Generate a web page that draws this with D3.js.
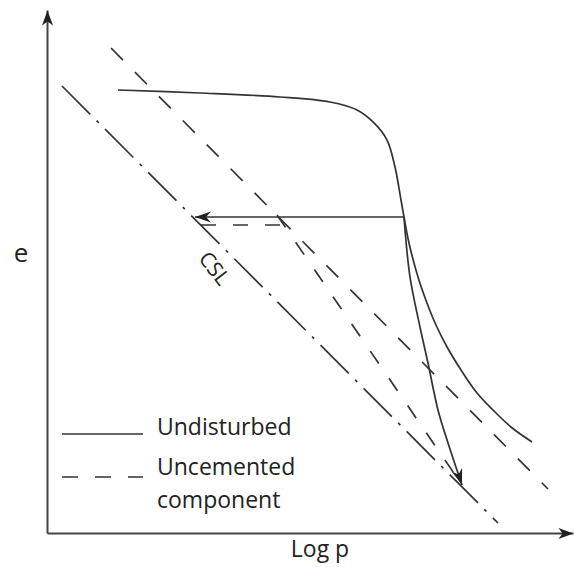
<!DOCTYPE html>
<html>
<head>
<meta charset="utf-8">
<script src="https://cdn.jsdelivr.net/npm/d3@7"></script>
<style>
  html, body { margin: 0; padding: 0; background: #fff; }
  svg { display: block; font-family: "Open Sans", "Noto Sans", sans-serif; }
</style>
</head>
<body>
<svg id="chart" width="574" height="567"></svg>
<script>
// ---- Data (schematic units: x = log p, y = void ratio e, both 0..100) ----
const cslLine        = [[2.85, 85.47], [85.74, 1.91]];
const uncementedNCL  = [[12.17, 92.73], [95.25, 8.41]];
const undisturbedCurve = [
  [13.50, 84.70], [29.09, 84.13], [44.30, 83.37], [53.80, 82.41],
  [58.94, 80.88], [61.98, 78.59], [64.64, 75.14], [66.16, 69.98],
  [67.30, 63.67], [67.87, 60.42], [68.82, 55.45], [70.53, 48.95],
  [72.24, 43.98], [73.95, 39.77], [76.05, 35.56], [78.71, 31.17],
  [81.75, 26.77], [84.79, 23.52], [88.21, 20.27], [92.21, 17.40]
];
const shearPath = [
  [67.87, 60.42], [69.01, 48.95], [70.91, 39.39], [72.43, 32.50],
  [74.33, 23.52], [76.24, 17.21], [78.90, 9.18]
];
const yieldArrow       = [[67.87, 60.42], [28.14, 60.42]];
const uncementedShift  = [[44.30, 58.89], [29.28, 58.89]];
const uncementedPath   = [[43.73, 60.80], [78.52, 9.75]];

const axisLabels = { x: "Log p", y: "e" };
const legendLabels = ["Undisturbed", ["Uncemented", "component"]];
const cslLabel = "CSL";

// ---- Drawing ----
const svg = d3.select("#chart");
const ink = "#333";
const x = d3.scaleLinear().domain([0, 100]).range([47, 573]);
const y = d3.scaleLinear().domain([0, 100]).range([533, 10]);

const defs = svg.append("defs");
function marker(id, len, half, notch, color) {
  defs.append("marker")
    .attr("id", id)
    .attr("viewBox", `${-len - 1} ${-half - 1} ${len + 2} ${2 * half + 2}`)
    .attr("refX", 0).attr("refY", 0)
    .attr("markerUnits", "userSpaceOnUse")
    .attr("markerWidth", len + 2).attr("markerHeight", 2 * half + 2)
    .attr("orient", "auto")
    .append("path")
    .attr("d", `M0,0 L${-len},${-half} L${-len + notch},0 L${-len},${half} Z`)
    .attr("fill", color);
}
marker("axisArrow", 15, 5.5, 4, "#222");
marker("curveArrow", 16, 5.5, 5, "#222");

// Axes (no ticks)
const xAxis = d3.axisBottom(x).tickValues([]).tickSizeOuter(0);
const yAxis = d3.axisLeft(y).tickValues([]).tickSizeOuter(0);
const gx = svg.append("g").attr("transform", `translate(0,${y(0)})`).call(xAxis);
const gy = svg.append("g").attr("transform", `translate(${x(0)},0)`).call(yAxis);
[gx, gy].forEach(g => g.select(".domain")
  .attr("stroke", "#444").attr("stroke-width", 2)
  .attr("marker-end", "url(#axisArrow)"));

const line = d3.line().x(d => x(d[0])).y(d => y(d[1]));
const smooth = d3.line().x(d => x(d[0])).y(d => y(d[1])).curve(d3.curveCatmullRom.alpha(0.5));

function draw(data, gen, dash, arrow) {
  const p = svg.append("path").datum(data).attr("d", gen)
    .attr("fill", "none").attr("stroke", ink).attr("stroke-width", 1.7);
  if (dash) p.attr("stroke-dasharray", dash);
  if (arrow) p.attr("marker-end", "url(#curveArrow)");
  return p;
}

draw(cslLine, line, "40,9,3,9");
draw(uncementedNCL, line, "17,17");
draw(uncementedShift, line, "15,17");
draw(uncementedPath, line, "15,18");
draw(undisturbedCurve, smooth);
draw(yieldArrow, line, null, true);
draw(shearPath, smooth, null, true);

// Axis labels
svg.append("text").attr("x", 21).attr("y", 262).attr("text-anchor", "middle")
  .attr("font-size", 26).attr("fill", "#222").text(axisLabels.y);
svg.append("text").attr("x", 320).attr("y", 557).attr("text-anchor", "middle")
  .attr("font-size", 23).attr("fill", "#222").text(axisLabels.x);

// CSL label
svg.append("text").attr("transform", "translate(215,268) rotate(52)")
  .attr("text-anchor", "middle").attr("dominant-baseline", "central")
  .attr("font-size", 21).attr("fill", "#222").text(cslLabel);

// Legend
const lg = svg.append("g");
lg.append("line").attr("x1", 62).attr("x2", 143).attr("y1", 434).attr("y2", 434)
  .attr("stroke", ink).attr("stroke-width", 1.7);
lg.append("line").attr("x1", 62).attr("x2", 143).attr("y1", 477).attr("y2", 477)
  .attr("stroke", ink).attr("stroke-width", 1.7).attr("stroke-dasharray", "16,17");
lg.append("text").attr("x", 157).attr("y", 435).attr("font-size", 23).attr("fill", "#222")
  .text(legendLabels[0]);
lg.append("text").attr("x", 157).attr("y", 475).attr("font-size", 23).attr("fill", "#222")
  .text(legendLabels[1][0]);
lg.append("text").attr("x", 157).attr("y", 508).attr("font-size", 23).attr("fill", "#222")
  .text(legendLabels[1][1]);
</script>
</body>
</html>
